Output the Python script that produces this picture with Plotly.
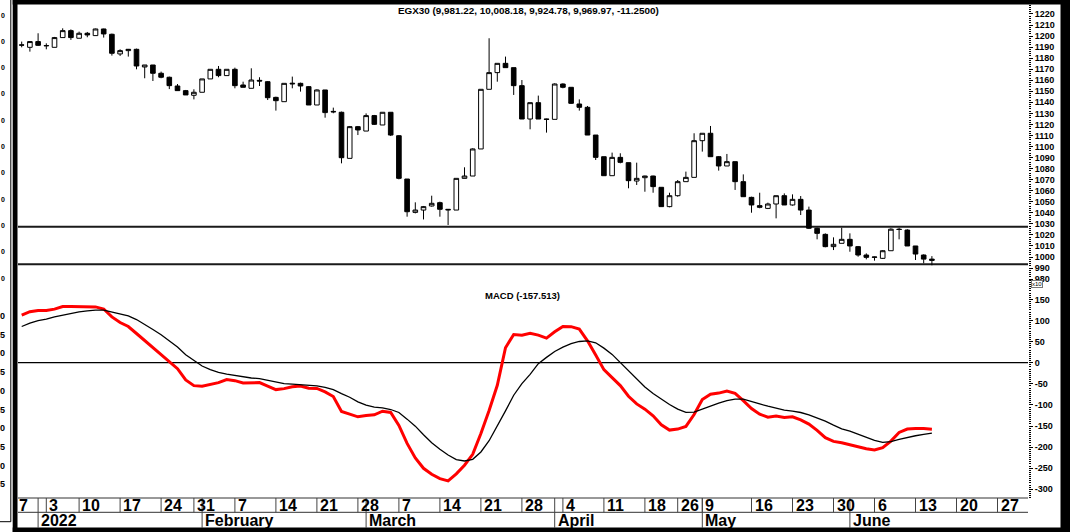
import plotly.graph_objects as go

W, H = 1070, 532
PL, PR, PT, PB = 18, 1028, 5, 498  # plot box in pixels
SPLIT = 280  # pixel row where price panel ends and MACD panel begins

# ---------------- data (index values, x10) ----------------
opens = [1192.0, 1189.8, 1195.0, 1191.1, 1189.8, 1198.6, 1204.9, 1198.0, 1202.5, 1200.4,
         1206.4, 1201.6, 1183.8, 1186.8, 1188.0, 1172.0, 1173.8, 1166.3, 1162.7, 1154.8,
         1150.6, 1146.4, 1149.1, 1161.2, 1169.9, 1164.2, 1169.9, 1155.7, 1152.7, 1159.9,
         1158.7, 1144.5, 1140.6, 1156.6, 1157.2, 1154.2, 1137.6, 1151.2, 1131.8, 1131.0,
         1089.3, 1118.0, 1114.0, 1128.0, 1119.5, 1131.0, 1109.8, 1070.6, 1040.4, 1042.5,
         1046.2, 1049.2, 1042.5, 1042.5, 1071.2, 1073.3, 1097.8, 1151.8, 1166.9, 1175.3,
         1171.4, 1155.1, 1124.9, 1139.7, 1124.9, 1124.6, 1156.6, 1153.6, 1138.5, 1135.5,
         1110.4, 1090.8, 1073.6, 1090.2, 1085.4, 1068.8, 1071.8, 1073.3, 1063.1, 1045.6,
         1055.5, 1068.2, 1072.1, 1105.3, 1112.0, 1090.8, 1082.4, 1086.3, 1068.2, 1054.0,
         1046.5, 1044.0, 1048.0, 1055.5, 1047.1, 1052.2, 1042.5, 1026.0, 1020.5, 1009.4,
         1012.4, 1016.0, 1009.4, 1001.8, 999.7, 998.8, 1005.7, 1025.2, 1024.4, 1010.0,
         1001.8, 998.1]
highs = [1195.0, 1195.5, 1202.5, 1193.4, 1199.2, 1207.0, 1206.0, 1204.0, 1203.7, 1206.7,
         1206.7, 1202.2, 1188.0, 1188.3, 1188.6, 1173.8, 1173.8, 1167.8, 1163.3, 1156.6,
         1151.2, 1151.8, 1161.2, 1169.9, 1172.9, 1169.9, 1171.4, 1158.7, 1170.8, 1162.7,
         1159.3, 1145.1, 1157.2, 1163.3, 1157.8, 1154.8, 1151.8, 1151.2, 1135.2, 1131.6,
         1118.6, 1118.6, 1130.0, 1128.6, 1131.0, 1131.0, 1110.4, 1070.6, 1049.5, 1046.2,
         1055.5, 1050.1, 1043.4, 1071.2, 1081.2, 1098.4, 1151.8, 1198.0, 1175.3, 1181.4,
         1171.4, 1160.2, 1139.7, 1146.1, 1125.2, 1157.2, 1157.2, 1153.6, 1142.7, 1136.7,
         1110.4, 1090.8, 1094.5, 1093.9, 1085.4, 1085.4, 1073.6, 1073.6, 1063.1, 1058.2,
         1069.7, 1077.3, 1112.0, 1112.0, 1118.6, 1091.4, 1093.3, 1086.3, 1074.8, 1054.6,
         1058.2, 1049.2, 1055.5, 1057.6, 1056.7, 1055.2, 1045.6, 1026.6, 1021.4, 1017.8,
         1026.5, 1021.4, 1010.0, 1003.3, 1000.3, 1006.3, 1026.0, 1026.5, 1025.2, 1010.0,
         1002.4, 1000.8]
lows = [1189.8, 1185.9, 1191.0, 1188.0, 1189.8, 1198.6, 1196.5, 1198.0, 1198.9, 1200.4,
        1198.6, 1182.3, 1182.0, 1181.4, 1169.9, 1161.8, 1159.3, 1161.8, 1152.0, 1150.6,
        1146.7, 1142.7, 1149.1, 1161.2, 1162.7, 1164.2, 1152.7, 1153.6, 1152.7, 1154.8,
        1142.1, 1132.5, 1140.6, 1152.7, 1149.7, 1137.6, 1137.6, 1126.1, 1130.1, 1084.8,
        1089.3, 1110.4, 1114.0, 1119.5, 1119.5, 1109.5, 1070.3, 1036.5, 1039.5, 1034.0,
        1045.6, 1036.5, 1029.0, 1042.5, 1071.2, 1073.3, 1097.8, 1151.8, 1158.7, 1171.4,
        1146.7, 1124.9, 1115.6, 1124.9, 1112.6, 1124.6, 1152.7, 1138.5, 1132.5, 1110.4,
        1087.8, 1073.6, 1073.6, 1084.8, 1062.2, 1065.2, 1059.1, 1058.2, 1045.6, 1045.0,
        1054.6, 1068.2, 1072.1, 1095.4, 1090.8, 1078.2, 1082.4, 1060.7, 1054.6, 1040.1,
        1044.1, 1043.4, 1035.0, 1047.1, 1046.5, 1038.0, 1025.4, 1016.0, 1008.8, 1006.3,
        1012.4, 1004.8, 1000.3, 997.9, 996.7, 998.2, 1005.7, 1016.0, 1010.0, 997.3,
        994.3, 992.5]
closes = [1191.8, 1195.0, 1191.6, 1191.4, 1198.6, 1204.9, 1198.6, 1202.5, 1201.0, 1206.4,
          1201.9, 1184.4, 1186.8, 1188.0, 1172.9, 1173.8, 1166.3, 1162.7, 1155.1, 1150.6,
          1146.7, 1149.1, 1161.2, 1169.9, 1164.2, 1169.9, 1155.1, 1153.6, 1160.2, 1159.3,
          1144.2, 1141.5, 1157.2, 1157.2, 1154.8, 1137.6, 1151.2, 1130.7, 1131.4, 1089.9,
          1118.0, 1115.0, 1128.0, 1120.1, 1131.0, 1110.4, 1071.2, 1041.0, 1042.5, 1045.6,
          1048.6, 1043.2, 1043.1, 1071.2, 1073.3, 1097.8, 1151.8, 1166.9, 1175.3, 1171.4,
          1155.1, 1124.9, 1139.7, 1124.9, 1124.6, 1156.6, 1153.6, 1139.1, 1135.5, 1110.4,
          1090.2, 1073.6, 1090.2, 1085.7, 1069.1, 1071.2, 1073.3, 1063.7, 1045.6, 1055.5,
          1068.2, 1072.1, 1105.3, 1112.0, 1090.8, 1082.4, 1086.3, 1068.2, 1054.6, 1047.1,
          1045.0, 1048.0, 1055.5, 1047.1, 1052.2, 1042.5, 1026.0, 1021.4, 1009.4, 1011.5,
          1016.0, 1010.0, 1001.8, 999.7, 1000.0, 1005.7, 1025.2, 1024.9, 1010.0, 1002.7,
          998.1, 997.0]
macd = [112.8, 120.8, 123.9, 123.7, 127.0, 133.0, 133.0, 133.0, 131.8, 132.2,
        127.2, 108.6, 95.2, 85.8, 69.2, 52.7, 37.0, 20.5, 2.4, -14.2,
        -40.9, -54.3, -55.9, -51.1, -47.2, -40.1, -42.5, -48.0, -47.6, -47.2,
        -55.5, -63.7, -61.4, -57.0, -55.1, -60.6, -61.0, -69.2, -80.2, -115.6,
        -121.9, -128.2, -125.1, -123.5, -114.9, -118.0, -148.7, -191.2, -225.8, -250.2,
        -264.3, -274.6, -280.0, -263.5, -243.0, -217.1, -167.6, -113.3, -53.5, 35.4,
        66.9, 65.3, 70.0, 65.3, 58.2, 73.2, 85.8, 85.4, 79.5, 51.9,
        18.1, -16.5, -35.4, -54.3, -79.5, -97.6, -110.1, -125.9, -147.1, -159.7,
        -157.3, -151.0, -122.7, -87.3, -74.7, -72.0, -66.9, -72.4, -89.7, -108.6,
        -121.9, -129.0, -126.6, -129.8, -128.2, -135.3, -145.5, -160.4, -177.8, -186.5,
        -189.6, -194.3, -199.8, -203.8, -206.9, -201.4, -185.7, -165.2, -157.3, -155.8,
        -156.2, -157.5]
signal = [85.8, 94.0, 99.9, 103.1, 108.6, 112.9, 117.2, 120.4, 122.7, 124.7,
          124.7, 120.4, 115.6, 110.9, 102.3, 91.3, 78.7, 66.1, 51.9, 37.0,
          18.9, 5.5, -7.9, -16.5, -22.8, -27.1, -30.7, -33.8, -36.2, -37.8,
          -41.7, -45.6, -49.6, -50.7, -51.9, -53.5, -55.1, -58.2, -63.7, -73.2,
          -81.8, -92.8, -100.7, -105.4, -107.0, -110.9, -118.0, -133.7, -150.3, -170.7,
          -189.6, -205.3, -218.7, -229.7, -232.9, -228.9, -211.6, -184.9, -151.0, -114.1,
          -77.1, -49.6, -27.5, -2.4, 12.6, 26.7, 37.0, 45.2, 50.3, 51.9,
          47.2, 34.6, 19.7, 0.8, -19.7, -38.5, -57.4, -73.2, -86.5, -99.1,
          -110.1, -117.6, -117.2, -109.7, -103.1, -96.0, -89.7, -86.5, -86.5, -91.3,
          -97.6, -103.1, -107.8, -112.5, -114.9, -118.0, -123.5, -130.6, -138.5, -147.9,
          -156.6, -162.1, -170.0, -177.8, -184.1, -188.8, -187.2, -181.7, -177.0, -173.1,
          -170.0, -166.8]

# trading-day index of weekly ticks and month starts
week_pos = [3, 7, 12, 17, 21, 26, 31, 36, 41, 46, 51, 56, 61, 66, 71, 76, 80, 83, 89, 94,
            99, 104, 109, 114, 119]
week_lab = ["3", "10", "17", "24", "31", "7", "14", "21", "28", "7", "14", "21", "28", "4",
            "11", "18", "26", "9", "16", "23", "30", "6", "13", "20", "27"]
month_pos = [2, 22, 42, 65, 83, 101]
month_lab = ["2022", "February", "March", "April", "May", "June"]
support_levels = [1027.3, 993.5]
price_ticks = list(range(980, 1221, 10))
macd_ticks = list(range(-300, 151, 50))

title_text = "EGX30 (9,981.22, 10,008.18, 9,924.78, 9,969.97, -11.2500)"
macd_text = "MACD (-157.513)"

idx = list(range(len(closes)))

# ---------------- helpers: pixel -> paper ----------------
def px(x):
    return (x - PL) / (PR - PL)

def py(y):
    return (PB - y) / (PB - PT)

FONT = "Liberation Sans, Arial, sans-serif"
split_dom = py(SPLIT)

fig = go.Figure()

fig.add_trace(go.Candlestick(
    x=idx, open=opens, high=highs, low=lows, close=closes,
    increasing=dict(line=dict(color="black", width=1), fillcolor="white"),
    decreasing=dict(line=dict(color="black", width=1), fillcolor="black"),
    whiskerwidth=0, xaxis="x", yaxis="y", hoverinfo="skip", showlegend=False,
))

fig.add_trace(go.Scatter(x=idx, y=macd, mode="lines", line=dict(color="#ff0000", width=3),
                         xaxis="x", yaxis="y2", showlegend=False, hoverinfo="skip"))
fig.add_trace(go.Scatter(x=idx, y=signal, mode="lines", line=dict(color="black", width=1.3),
                         xaxis="x", yaxis="y2", showlegend=False, hoverinfo="skip"))

shapes = []
# support / resistance lines
for lvl in support_levels:
    shapes.append(dict(type="line", xref="paper", yref="y", x0=0, x1=1, y0=lvl, y1=lvl,
                       line=dict(color="#1a1a1a", width=2), layer="below"))
# MACD zero line
shapes.append(dict(type="line", xref="paper", yref="y2", x0=0, x1=1, y0=0, y1=0,
                   line=dict(color="black", width=1.2), layer="below"))

# date axis rows
for yy in (498, 512.3):
    shapes.append(dict(type="line", xref="paper", yref="paper", x0=0, x1=1,
                       y0=py(yy), y1=py(yy), line=dict(color="#333", width=1)))
for p in week_pos:
    shapes.append(dict(type="line", xref="x", yref="paper", x0=p, x1=p,
                       y0=py(498), y1=py(512.3), line=dict(color="#444", width=1)))
for p in month_pos:
    shapes.append(dict(type="line", xref="x", yref="paper", x0=p, x1=p,
                       y0=py(498), y1=py(527.6), line=dict(color="#444", width=1)))

# black frame
def rect(x0, x1, y0, y1, color="black"):
    return dict(type="rect", xref="paper", yref="paper", x0=px(x0), x1=px(x1),
                y0=py(y1), y1=py(y0), fillcolor=color, line=dict(width=0), layer="above")

shapes += [rect(12.7, 17.5, 0, 532), rect(12.7, 1070, 0, 4.4), rect(12.7, 1070, 527.6, 532),
           rect(1060.5, 1070, 0, 532)]
# left strip box
shapes.append(dict(type="line", xref="paper", yref="paper", x0=px(10.8), x1=px(10.8),
                   y0=py(521.7), y1=py(0), line=dict(color="black", width=1)))
shapes.append(dict(type="line", xref="paper", yref="paper", x0=px(0), x1=px(10.8),
                   y0=py(521.7), y1=py(521.7), line=dict(color="black", width=1)))

ann = []
def bold(t):
    return "<b>" + t + "</b>"

DATE_SIZE = 16
for p, t in zip(week_pos, week_lab):
    ann.append(dict(x=p, xref="x", y=py(505.5), yref="paper", text=bold(t), showarrow=False,
                    xanchor="left", yanchor="middle", xshift=1,
                    font=dict(family=FONT, size=DATE_SIZE, color="black")))
ann.append(dict(x=px(16.5), xref="paper", y=py(505.5), yref="paper", text=bold("7"),
                showarrow=False, xanchor="left", yanchor="middle",
                font=dict(family=FONT, size=DATE_SIZE, color="black")))
for p, t in zip(month_pos, month_lab):
    ann.append(dict(x=p, xref="x", y=py(520), yref="paper", text=bold(t), showarrow=False,
                    xanchor="left", yanchor="middle", xshift=1,
                    font=dict(family=FONT, size=DATE_SIZE, color="black")))

ann.append(dict(x=px(528), xref="paper", y=py(10.7), yref="paper", text=bold(title_text),
                showarrow=False, xanchor="center", yanchor="middle",
                font=dict(family=FONT, size=9.9, color="black")))
ann.append(dict(x=px(522.4), xref="paper", y=py(295), yref="paper", text=bold(macd_text),
                showarrow=False, xanchor="center", yanchor="middle",
                font=dict(family=FONT, size=9.5, color="black")))
ann.append(dict(x=px(1037), xref="paper", y=py(284.3), yref="paper", text="x10",
                showarrow=False, xanchor="center", yanchor="middle", bgcolor="white",
                bordercolor="#777", borderwidth=1, borderpad=0,
                font=dict(family=FONT, size=6, color="black")))

# cut-off labels of the neighbouring chart in the left strip
for k in range(11):
    ann.append(dict(x=px(2.5), xref="paper", y=py(15 + 26.3 * k), yref="paper", text=bold("0"),
                    showarrow=False, xanchor="center", yanchor="middle",
                    font=dict(family=FONT, size=7, color="black")))
for k in range(10):
    ann.append(dict(x=px(2.5), xref="paper", y=py(316 + 18.7 * k), yref="paper",
                    text=bold("0" if k % 2 == 0 else "5"), showarrow=False,
                    xanchor="center", yanchor="middle",
                    font=dict(family=FONT, size=9, color="black")))

fig.update_layout(
    width=W, height=H,
    margin=dict(l=PL, r=W - PR, t=PT, b=H - PB, pad=0, autoexpand=False),
    paper_bgcolor="white", plot_bgcolor="white",
    showlegend=False, boxgap=0.2,
    xaxis=dict(range=[(PL - 21.7) / 8.2, (PR - 21.7) / 8.2], showticklabels=False,
               showgrid=False, zeroline=False, showline=False, ticks="", automargin=False,
               rangeslider=dict(visible=False), anchor="y2"),
    yaxis=dict(domain=[split_dom, 1], range=[979.2, 1228.1], side="right", anchor="x",
               tickvals=price_ticks, ticktext=[bold(str(v)) for v in price_ticks],
               tickfont=dict(family=FONT, size=9, color="black"), automargin=False,
               ticks="outside", ticklen=4, tickwidth=1, tickcolor="black",
               minor=dict(ticks="outside", ticklen=2, dtick=2, tickwidth=1, tickcolor="black"),
               showgrid=False, zeroline=False, showline=False),
    yaxis2=dict(domain=[0, split_dom], range=[-320.6, 196], side="right", anchor="x",
                tickvals=macd_ticks, ticktext=[bold(str(v)) for v in macd_ticks],
                tickfont=dict(family=FONT, size=9, color="black"), automargin=False,
                ticks="outside", ticklen=4, tickwidth=1, tickcolor="black",
                minor=dict(ticks="outside", ticklen=2, dtick=5, tickwidth=1, tickcolor="black"),
                showgrid=False, zeroline=False, showline=False),
    shapes=shapes, annotations=ann,
)

fig.write_html("out.html", config={"displayModeBar": False},
               post_script="document.body.style.margin='0';document.body.style.overflow='hidden';")
